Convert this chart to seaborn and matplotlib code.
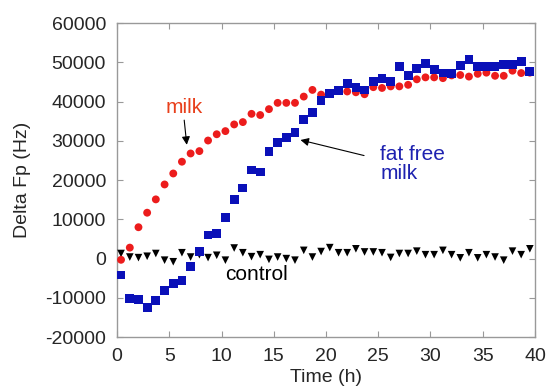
import matplotlib
matplotlib.use("Agg")
import matplotlib.pyplot as plt
import seaborn as sns
import pandas as pd

time_h = [0.38, 1.22, 2.05, 2.88, 3.71, 4.55, 5.38, 6.21, 7.04, 7.88,
          8.71, 9.54, 10.37, 11.21, 12.04, 12.87, 13.70, 14.54, 15.37, 16.20,
          17.03, 17.87, 18.70, 19.53, 20.36, 21.20, 22.03, 22.86, 23.69, 24.53,
          25.36, 26.19, 27.02, 27.86, 28.69, 29.52, 30.35, 31.19, 32.02, 32.85,
          33.68, 34.52, 35.35, 36.18, 37.01, 37.85, 38.68, 39.51]

milk = [-300, 2800, 8000, 11700, 15100, 18900, 21700, 24700, 26800, 27400,
        30100, 31700, 32500, 34200, 34800, 36900, 36600, 38100, 39700, 39700,
        39700, 41300, 43000, 41800, 42200, 42700, 42600, 42400, 41900, 43700,
        43500, 43900, 43900, 44300, 45700, 46200, 46200, 46000, 46700, 46800,
        46400, 47100, 47400, 46600, 46600, 47900, 47300, 47400]

fat_free_milk = [-4200, -10100, -10500, -12500, -10700, -8200, -6300, -5500, -2100, 1800,
                 6000, 6400, 10400, 15000, 18000, 22600, 22100, 27400, 29500, 30800,
                 32200, 35400, 37300, 40300, 42000, 42800, 44700, 43700, 43000, 45100,
                 46000, 45100, 48900, 46700, 48500, 49700, 48300, 47300, 47100, 49200,
                 50800, 48900, 48900, 48900, 49500, 49500, 50300, 47600]

control = [1300, 400, 250, 600, 1300, -400, -800, 1500, 400, 1000,
           250, 850, -400, 2700, 1500, 500, 1000, -200, 400, 0,
           -400, 2100, 400, 1800, 2800, 1500, 1500, 2500, 1700, 1700,
           1500, 300, 1300, 1300, 1900, 1000, 1000, 2100, 1000, 200,
           1500, 200, 1000, 400, -400, 1900, 1000, 2500]

x_ticks = [0, 5, 10, 15, 20, 25, 30, 35, 40]
y_ticks = [-20000, -10000, 0, 10000, 20000, 30000, 40000, 50000, 60000]

sns.set_style("ticks")
plt.rcParams['font.family'] = ['Liberation Sans', 'DejaVu Sans']
plt.rcParams['axes.unicode_minus'] = False

df = pd.DataFrame({"t": time_h, "milk": milk, "ffm": fat_free_milk, "control": control})

fig, ax = plt.subplots(figsize=(5.47, 3.87), dpi=100)
fig.subplots_adjust(left=0.214, right=0.978, top=0.94, bottom=0.129)

sns.scatterplot(data=df, x="t", y="control", marker="v", color="black", s=30,
                edgecolor="none", ax=ax, zorder=3)
sns.scatterplot(data=df, x="t", y="milk", marker="o", color="#ec1c1c", s=32,
                edgecolor="none", ax=ax, zorder=4)
sns.scatterplot(data=df, x="t", y="ffm", marker="s", color="#0a10b8", s=40,
                edgecolor="none", ax=ax, zorder=5)

ax.set_xlim(0, 40)
ax.set_ylim(-20000, 60000)
ax.set_xticks(x_ticks)
ax.set_yticks(y_ticks)
ax.set_xticklabels([str(v) for v in x_ticks], fontsize=14)
ax.set_yticklabels([str(v) for v in y_ticks], fontsize=14)
ax.tick_params(direction="in", top=True, right=True, length=4, width=0.8,
               color="#999999", pad=8)
for sp in ax.spines.values():
    sp.set_visible(True)
    sp.set_color("#999999")
    sp.set_linewidth(1.0)

ax.set_xlabel("Time (h)", fontsize=14, labelpad=2.5)
ax.set_ylabel("Delta Fp (Hz)", fontsize=14, labelpad=10)

ax.text(6.4, 38500, "milk", color="#e8401c", fontsize=15, ha="center", va="center")
ax.annotate("", xy=(6.7, 28300), xytext=(6.4, 36000),
            arrowprops=dict(arrowstyle="-|>", color="black", lw=0.8, mutation_scale=12))

ax.text(25.2, 29000, "fat free\nmilk", color="#1e22b0", fontsize=15, ha="left", va="top",
        linespacing=1.0)
ax.annotate("", xy=(17.3, 30400), xytext=(23.9, 26100),
            arrowprops=dict(arrowstyle="-|>", color="black", lw=0.8, mutation_scale=12))

ax.text(10.3, -4000, "control", color="black", fontsize=15, ha="left", va="center")

fig.savefig("out.png", dpi=100)
